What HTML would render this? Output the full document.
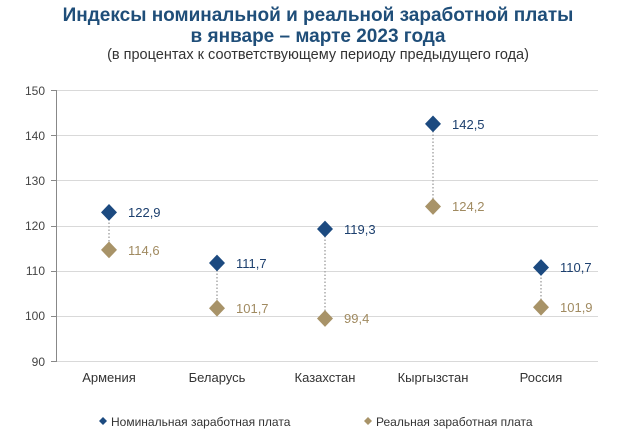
<!DOCTYPE html>
<html><head><meta charset="utf-8"><style>
body{margin:0;background:#fff;width:636px;height:442px;overflow:hidden}
</style></head><body>
<svg width="636" height="442" xmlns="http://www.w3.org/2000/svg" font-family="Liberation Sans, DejaVu Sans, sans-serif">
<text x="318" y="21" text-anchor="middle" font-size="19" font-weight="bold" fill="#1f4e79">Индексы номинальной и реальной заработной платы</text>
<text x="318" y="42" text-anchor="middle" font-size="19" font-weight="bold" fill="#1f4e79">в январе – марте 2023 года</text>
<text x="318" y="59" text-anchor="middle" font-size="14.5" fill="#333">(в процентах к соответствующему периоду предыдущего года)</text>
<g stroke="#d9d9d9" stroke-width="1">
<line x1="56" y1="90.5" x2="598" y2="90.5"/><line x1="56" y1="135.5" x2="598" y2="135.5"/>
<line x1="56" y1="180.5" x2="598" y2="180.5"/><line x1="56" y1="226.5" x2="598" y2="226.5"/>
<line x1="56" y1="271.5" x2="598" y2="271.5"/><line x1="56" y1="316.5" x2="598" y2="316.5"/>
<line x1="56" y1="361.5" x2="598" y2="361.5"/>
</g>
<line x1="56.5" y1="90" x2="56.5" y2="362" stroke="#888"/>
<g stroke="#888"><line x1="51" y1="90.5" x2="56" y2="90.5"/><line x1="51" y1="135.5" x2="56" y2="135.5"/><line x1="51" y1="180.5" x2="56" y2="180.5"/><line x1="51" y1="226.5" x2="56" y2="226.5"/><line x1="51" y1="271.5" x2="56" y2="271.5"/><line x1="51" y1="316.5" x2="56" y2="316.5"/><line x1="51" y1="361.5" x2="56" y2="361.5"/></g>
<g font-size="12" fill="#444" text-anchor="end">
<text x="45" y="95">150</text><text x="45" y="140">140</text><text x="45" y="185">130</text><text x="45" y="230">120</text><text x="45" y="275">110</text><text x="45" y="320">100</text><text x="45" y="366">90</text>
</g>
<g stroke="#aaa" stroke-width="1.5" stroke-dasharray="1.5,2">
<line x1="109" y1="212" x2="109" y2="250"/><line x1="217" y1="263" x2="217" y2="308"/>
<line x1="325" y1="229" x2="325" y2="318"/><line x1="433" y1="124" x2="433" y2="206"/>
<line x1="541" y1="267" x2="541" y2="307"/>
</g>
<g fill="#1c4a80">
<path d="M109 204l8 8.4-8 8.4-8-8.4z"/><path d="M217 254.6l8 8.4-8 8.4-8-8.4z"/>
<path d="M325 220.6l8 8.4-8 8.4-8-8.4z"/><path d="M433 115.5l8 8.4-8 8.4-8-8.4z"/>
<path d="M541 259.1l8 8.4-8 8.4-8-8.4z"/>
</g>
<g fill="#a89368">
<path d="M109 241.5l8 8.4-8 8.4-8-8.4z"/><path d="M217 299.8l8 8.4-8 8.4-8-8.4z"/>
<path d="M325 310.1l8 8.4-8 8.4-8-8.4z"/><path d="M433 198.1l8 8.4-8 8.4-8-8.4z"/>
<path d="M541 298.8l8 8.4-8 8.4-8-8.4z"/>
</g>
<g font-size="13" fill="#1c3f6e">
<text x="128" y="217">122,9</text><text x="236" y="268">111,7</text><text x="344" y="234">119,3</text><text x="452" y="129">142,5</text><text x="560" y="272">110,7</text>
</g>
<g font-size="13" fill="#a08a60">
<text x="128" y="255">114,6</text><text x="236" y="313">101,7</text><text x="344" y="323">99,4</text><text x="452" y="211">124,2</text><text x="560" y="312">101,9</text>
</g>
<g font-size="13" fill="#333" text-anchor="middle">
<text x="109" y="382">Армения</text><text x="217" y="382">Беларусь</text><text x="325" y="382">Казахстан</text><text x="433" y="382">Кыргызстан</text><text x="541" y="382">Россия</text>
</g>
<path d="M103 417l4 4-4 4-4-4z" fill="#1c4a80"/>
<text x="111" y="426" font-size="12" fill="#333">Номинальная заработная плата</text>
<path d="M368 417l4 4-4 4-4-4z" fill="#a89368"/>
<text x="376" y="426" font-size="12" fill="#333">Реальная заработная плата</text>
</svg>
</body></html>
